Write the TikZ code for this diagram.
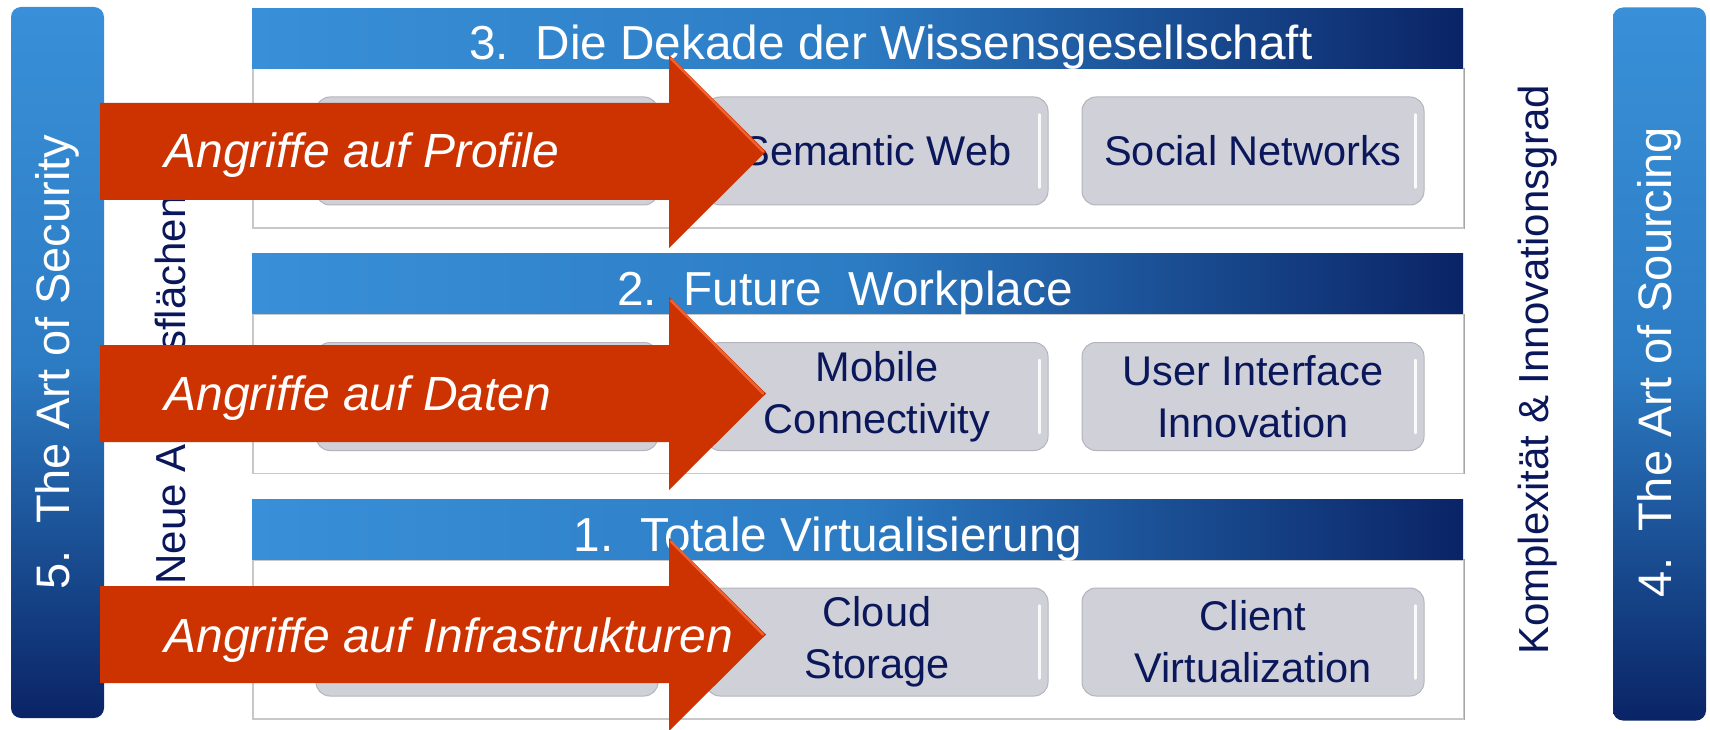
\documentclass[tikz,border=0pt]{standalone}
\usepackage{fontspec}
\setmainfont{Liberation Sans}
\definecolor{navy}{HTML}{0A2466}
\definecolor{hblue}{HTML}{3990D8}
\definecolor{hmid}{HTML}{2C7CC4}
\definecolor{arrowred}{HTML}{CC3300}
\definecolor{arrowhi}{HTML}{F06030}
\definecolor{boxgray}{HTML}{D0D0D8}
\definecolor{boxedge}{HTML}{B4B4BC}
\definecolor{txtnavy}{HTML}{0A175A}
\definecolor{bodyedge}{HTML}{C8C8C8}
\tikzset{
  sidepanel/.style={rounded corners=10pt, top color=hblue, bottom color=navy, middle color=hmid, draw=none},
  headerbar/.style={left color=hblue, right color=navy, middle color=hmid, draw=none, anchor=north west, minimum width=1211pt, minimum height=60pt, inner sep=0pt},
  bodybox/.style={fill=white, draw=bodyedge, line width=1.5pt, anchor=north west, minimum width=1211pt, minimum height=159pt, inner sep=0pt},
  itembox/.style={rounded corners=14pt, fill=boxgray, draw=boxedge, line width=1pt, minimum width=342pt, minimum height=108pt, inner sep=0pt},
  gloss/.style={white, line width=2.5pt, line cap=round, opacity=0.9},
  itemtxt/.style={text=txtnavy, font=\fontsize{41.5}{52}\selectfont, align=center},
  titletxt/.style={text=white, font=\fontsize{47.7}{56}\selectfont, anchor=base},
  arrowtxt/.style={text=white, font=\fontsize{48}{56}\selectfont\itshape, anchor=base west},
  sidetxt/.style={text=white, font=\fontsize{47}{56}\selectfont, rotate=90},
  axistxt/.style={text=txtnavy, font=\fontsize{42}{50}\selectfont, rotate=90}
}
\begin{document}
\begin{tikzpicture}[x=1pt,y=-1pt]
\useasboundingbox (0,0) rectangle (1710,730);
\fill[white] (0,0) rectangle (1710,730);

% side panels
\node[sidepanel, minimum width=93pt, minimum height=711pt, inner sep=0pt] (secpanel) at (57.5,362.5) {};
\node[sidetxt] (sectxt) at (57,362) {5.\ \ The Art of Security};
\node[sidepanel, minimum width=93pt, minimum height=713pt, inner sep=0pt] (srcpanel) at (1659.5,364) {};
\node[sidetxt] (srctxt) at (1659,362) {4.\ \ The Art of Sourcing};

% axis labels
\node[axistxt] (neue) at (175,390) {Neue Angriffsflächen};
\node[axistxt] (kompl) at (1538,370) {Komplexität \& Innovationsgrad};

% block 3
\node[bodybox] (body3) at (252,68) {};
\draw[gray!70, line width=1.5pt] (body3.north east) -- (body3.south east);
\node[headerbar] (head3) at (252,8) {};
\node[titletxt] (title3) at (891,60) {3.\ \ Die Dekade der Wissensgesellschaft};
\node[itembox] (box3a) at (487,151) {};
\node[itembox] (box3b) at (877,151) {};
\node[itemtxt] (txt3b) at (877,151) {Semantic Web};
\node[itembox] (box3c) at (1253,151) {};
\node[itemtxt] (txt3c) at (1253,151) {Social Networks};

% block 2
\node[bodybox] (body2) at (252,313.5) {};
\draw[gray!70, line width=1.5pt] (body2.north east) -- (body2.south east);
\node[headerbar] (head2) at (252,253.5) {};
\node[titletxt] (title2) at (845,305.5) {2.\ \ Future\ \ Workplace};
\node[itembox] (box2a) at (487,396.5) {};
\node[itembox] (box2b) at (877,396.5) {};
\node[itemtxt] (txt2b) at (877,396.5) {Mobile\\Connectivity};
\node[itembox] (box2c) at (1253,396.5) {};
\node[itemtxt] (txt2c) at (1253,396.5) {User Interface\\Innovation};

% block 1
\node[bodybox] (body1) at (252,559) {};
\draw[gray!70, line width=1.5pt] (body1.north east) -- (body1.south east);
\node[headerbar] (head1) at (252,499) {};
\node[titletxt] (title1) at (828,551) {1.\ \ Totale Virtualisierung};
\node[itembox] (box1a) at (487,642) {};
\node[itembox] (box1b) at (877,642) {};
\node[itemtxt] (txt1b) at (877,642) {Cloud\\Storage};
\node[itembox] (box1c) at (1253,642) {};
\node[itemtxt] (txt1c) at (1253,642) {Client\\Virtualization};

% glossy highlights on the item boxes
\foreach \b in {box3b,box3c,box2b,box2c,box1b,box1c}{
  \draw[gloss] ([xshift=-9pt,yshift=-18pt]\b.north east) -- ([xshift=-9pt,yshift=18pt]\b.south east);
}

% arrows
\foreach \c in {151.5, 393.5, 634.5}{
  \fill[arrowred] (100,\c-48.5) -- (669,\c-48.5) -- (669,\c-96.5) -- (766,\c) -- (669,\c+96.5) -- (669,\c+48.5) -- (100,\c+48.5) -- cycle;
  \draw[arrowhi, line width=2.5pt, line cap=round] (671,\c-93) -- (763,\c);
}
\node[arrowtxt] (arr3) at (161,168) {Angriffe auf Profile};
\node[arrowtxt] (arr2) at (161,410) {Angriffe auf Daten};
\node[arrowtxt] (arr1) at (161,652) {Angriffe auf Infrastrukturen};
\end{tikzpicture}
\end{document}
